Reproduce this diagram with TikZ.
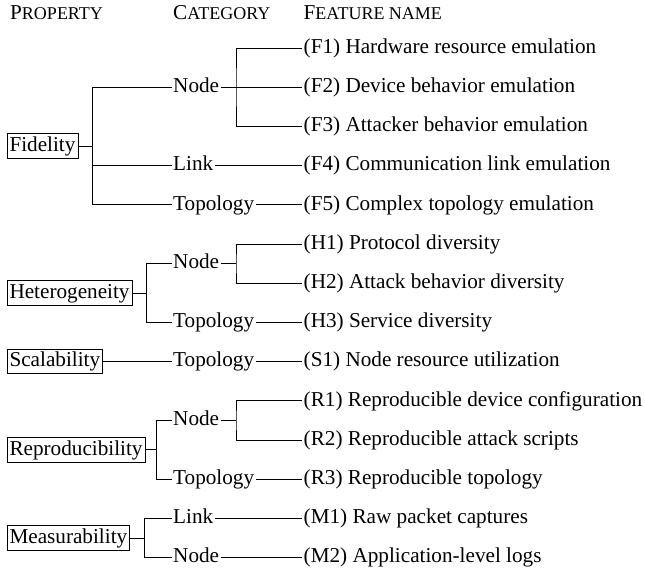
\documentclass[tikz,border=0pt]{standalone}
\usepackage{fontspec}
\setmainfont{Liberation Serif}
\usetikzlibrary{calc}
\newcommand{\fakesc}[2]{#1{\fontsize{18}{21}\selectfont #2}}
\begin{document}
\begin{tikzpicture}[x=1pt,y=-1pt,
  font=\fontsize{21.2}{25}\selectfont,
  txt/.style={anchor=west, inner xsep=1.5pt, inner ysep=0pt, text height=15pt, text depth=4.5pt},
  prop/.style={txt, draw, line width=0.8pt, inner xsep=2.6pt, inner ysep=2.5pt},
  conn/.style={line width=0.8pt}]
\useasboundingbox (0,0) rectangle (645,573);
% headers
\node[txt] (hp) at (8.5,14.2) {\fakesc{P}{ROPERTY}};
\node[txt] (hc) at (171.5,14.2) {\fakesc{C}{ATEGORY}};
\node[txt] (hf) at (302,14.2) {\fakesc{F}{EATURE NAME}};
% features
\node[txt] (f1) at (302,48) {(F1) Hardware resource emulation};
\node[txt] (f2) at (302,87.2) {(F2) Device behavior emulation};
\node[txt] (f3) at (302,126.4) {(F3) Attacker behavior emulation};
\node[txt] (f4) at (302,165.6) {(F4) Communication link emulation};
\node[txt] (f5) at (302,204.8) {(F5) Complex topology emulation};
\node[txt] (h1) at (302,244) {(H1) Protocol diversity};
\node[txt] (h2) at (302,283.2) {(H2) Attack behavior diversity};
\node[txt] (h3) at (302,322.4) {(H3) Service diversity};
\node[txt] (s1) at (302,361.6) {(S1) Node resource utilization};
\node[txt] (r1) at (302,400.8) {(R1) Reproducible device configuration};
\node[txt] (r2) at (302,440) {(R2) Reproducible attack scripts};
\node[txt] (r3) at (302,479.2) {(R3) Reproducible topology};
\node[txt] (m1) at (302,518.4) {(M1) Raw packet captures};
\node[txt] (m2) at (302,557.6) {(M2) Application-level logs};
% categories
\node[txt] (fnode) at (171.5,87.2) {Node};
\node[txt] (flink) at (171.5,165.6) {Link};
\node[txt] (ftop) at (171.5,204.8) {Topology};
\node[txt] (hnode) at (171.5,263.6) {Node};
\node[txt] (htop) at (171.5,322.4) {Topology};
\node[txt] (stop) at (171.5,361.6) {Topology};
\node[txt] (rnode) at (171.5,420.4) {Node};
\node[txt] (rtop) at (171.5,479.2) {Topology};
\node[txt] (mlink) at (171.5,518.4) {Link};
\node[txt] (mnode) at (171.5,557.6) {Node};
% properties
\node[prop] (fid) at (6.5,146) {Fidelity};
\node[prop] (het) at (6.5,293) {Heterogeneity};
\node[prop] (sca) at (6.5,361.6) {Scalability};
\node[prop] (rep) at (6.5,449.8) {Reproducibility};
\node[prop] (mea) at (6.5,538) {Measurability};
% branch points
\coordinate (fv) at ($(fid.east)+(14,0)$);
\coordinate (hv) at ($(het.east)+(14,0)$);
\coordinate (rv) at ($(rep.east)+(11,0)$);
\coordinate (mv) at ($(mea.east)+(14,0)$);
\coordinate (fn) at (236,87.2);
\coordinate (hn) at (236,263.6);
\coordinate (rn) at (236,420.4);
% Fidelity
\draw[conn] (fid.east) -- (fv);
\draw[conn] (fnode.west) -| (fv) |- (ftop.west);
\draw[conn] (fv |- flink.west) -- (flink.west);
\draw[conn] (fnode.east) -- (f2.west);
\draw[conn] (f1.west) -| (fn) |- (f3.west);
\draw[conn] (flink.east) -- (f4.west);
\draw[conn] (ftop.east) -- (f5.west);
% Heterogeneity
\draw[conn] (het.east) -- (hv);
\draw[conn] (hnode.west) -| (hv) |- (htop.west);
\draw[conn] (hnode.east) -- (hn);
\draw[conn] (h1.west) -| (hn) |- (h2.west);
\draw[conn] (htop.east) -- (h3.west);
% Scalability
\draw[conn] (sca.east) -- (stop.west);
\draw[conn] (stop.east) -- (s1.west);
% Reproducibility
\draw[conn] (rep.east) -- (rv);
\draw[conn] (rnode.west) -| (rv) |- (rtop.west);
\draw[conn] (rnode.east) -- (rn);
\draw[conn] (r1.west) -| (rn) |- (r2.west);
\draw[conn] (rtop.east) -- (r3.west);
% Measurability
\draw[conn] (mea.east) -- (mv);
\draw[conn] (mlink.west) -| (mv) |- (mnode.west);
\draw[conn] (mlink.east) -- (m1.west);
\draw[conn] (mnode.east) -- (m2.west);
\end{tikzpicture}
\end{document}
